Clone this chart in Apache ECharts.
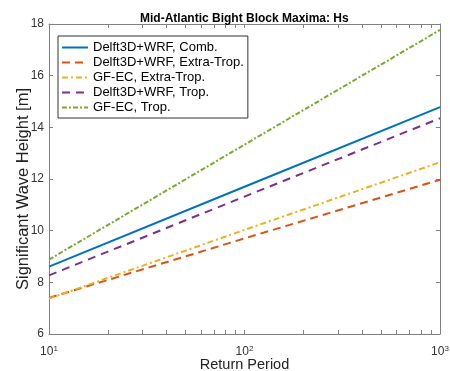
<!DOCTYPE html>
<html>
<head>
<meta charset="utf-8">
<script src="https://cdn.jsdelivr.net/npm/echarts@6/dist/echarts.min.js"></script>
<style>html,body{margin:0;padding:0;background:#fff}#c{width:450px;height:371px}</style>
</head>
<body>
<div id="c"></div>
<script>
const returnPeriods = [10, 100, 1000];
const delftComb = [8.61, 11.70, 14.78];
const delftExtra = [7.40, 9.70, 11.97];
const gfecExtra = [7.37, 10.03, 12.65];
const delftTrop = [8.27, 11.32, 14.35];
const gfecTrop = [8.88, 13.33, 17.77];
const seriesNames = ['Delft3D+WRF, Comb.', 'Delft3D+WRF, Extra-Trop.', 'GF-EC, Extra-Trop.', 'Delft3D+WRF, Trop.', 'GF-EC, Trop.'];
const yTicks = [6, 8, 10, 12, 14, 16, 18];
const xLabelValues = [10, 100, 1000];
const xTickValues = [10,20,30,40,50,60,70,80,90,100,200,300,400,500,600,700,800,900,1000];
const colors = ['#0072BD', '#D95319', '#EDB120', '#7E2F8E', '#77AC30'];
const styles = ['solid', [8, 5], [6, 3, 2, 3], [8, 6], [5, 2, 2, 2]];
const allData = [delftComb, delftExtra, gfecExtra, delftTrop, gfecTrop];

const font = 'Liberation Sans, Arial, Helvetica, sans-serif';
const axisColor = '#808080';
const chart = echarts.init(document.getElementById('c'));
chart.setOption({
  animation: false,
  backgroundColor: '#fff',
  title: {
    text: 'Mid-Atlantic Bight Block Maxima: Hs',
    left: 135, top: 8,
    textStyle: {fontFamily: font, fontSize: 12, fontWeight: 'bold', color: '#000'}
  },
  legend: {
    orient: 'vertical', left: 58, top: 36,
    backgroundColor: '#fff', borderColor: '#333', borderWidth: 1,
    padding: [5, 4, 4, 3], itemGap: 2, itemWidth: 26, itemHeight: 13,
    itemStyle: {opacity: 0},
    textStyle: {fontFamily: font, fontSize: 13, color: '#000'},
    data: seriesNames
  },
  grid: {left: 49, right: 10, top: 24, bottom: 37, outerBoundsMode: 'none', containLabel: false},
  xAxis: [{
    type: 'log', logBase: 10, min: 10, max: 1000,
    name: 'Return Period', nameLocation: 'middle', nameGap: 23, nameMoveOverlap: false,
    nameTextStyle: {fontFamily: font, fontSize: 14.5, color: '#222', verticalAlign: 'top'},
    axisLine: {show: true, lineStyle: {color: axisColor}},
    axisTick: {show: true, inside: true, length: 4, customValues: xTickValues, lineStyle: {color: axisColor}},
    axisLabel: {
      customValues: xLabelValues, margin: 11,
      formatter: v => '{b|10}{s|' + Math.round(Math.log10(v)) + '}',
      rich: {b: {fontFamily: font, fontSize: 12, color: '#333'}, s: {fontFamily: font, fontSize: 8, color: '#333', verticalAlign: 'top', padding: [0,0,6,0]}}
    },
    splitLine: {show: false}
  }, {
    type: 'log', logBase: 10, min: 10, max: 1000, position: 'top',
    axisLine: {show: true, lineStyle: {color: axisColor}},
    axisTick: {show: true, inside: true, length: 4, customValues: xTickValues, lineStyle: {color: axisColor}},
    axisLabel: {show: false}, splitLine: {show: false}
  }],
  yAxis: [{
    type: 'value', min: 6, max: 18, interval: 2,
    name: 'Significant Wave Height [m]', nameLocation: 'middle', nameGap: 17, nameMoveOverlap: false,
    nameTextStyle: {fontFamily: font, fontSize: 16.5, color: '#222', padding: [0, 20, 0, 0]},
    axisLine: {show: true, lineStyle: {color: axisColor}},
    axisTick: {show: true, inside: true, length: 4, lineStyle: {color: axisColor}},
    axisLabel: {fontFamily: font, fontSize: 12, color: '#333', margin: 5},
    splitLine: {show: false}
  }, {
    type: 'value', min: 6, max: 18, interval: 2, position: 'right',
    axisLine: {show: true, lineStyle: {color: axisColor}},
    axisTick: {show: true, inside: true, length: 4, lineStyle: {color: axisColor}},
    axisLabel: {show: false}, splitLine: {show: false}
  }],
  series: seriesNames.map((n, i) => ({
    name: n, type: 'line', xAxisIndex: 0, yAxisIndex: 0,
    data: returnPeriods.map((x, j) => [x, allData[i][j]]),
    symbol: 'none', showSymbol: false,
    lineStyle: {color: colors[i], width: 2, type: styles[i]},
    itemStyle: {color: colors[i]}
  }))
});
</script>
</body>
</html>
